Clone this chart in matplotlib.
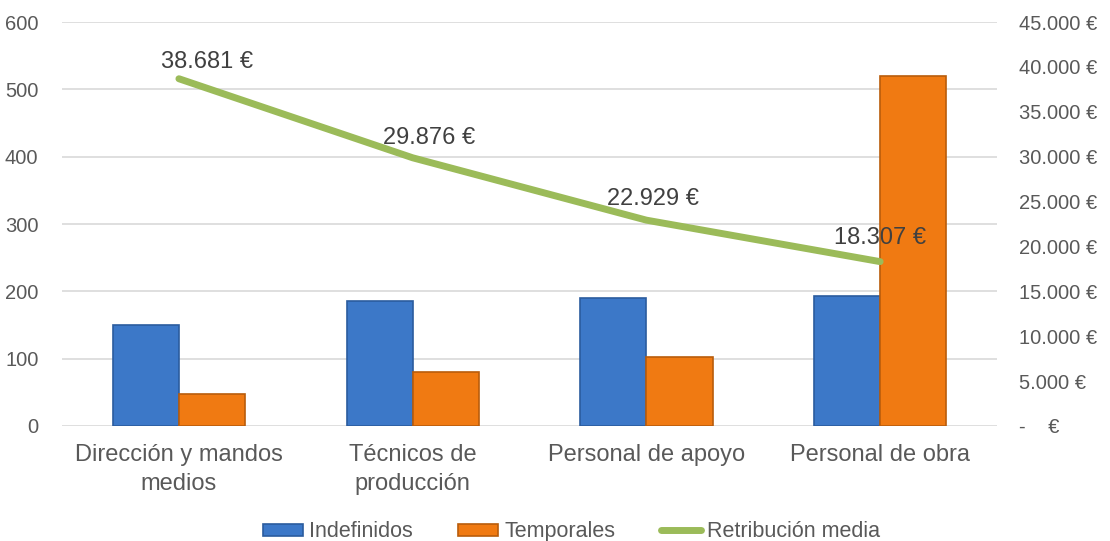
import matplotlib
matplotlib.use("Agg")
import matplotlib.pyplot as plt
import matplotlib.ticker as tck
import numpy as np

categorias = ["Dirección y mandos\nmedios", "Técnicos de\nproducción", "Personal de apoyo", "Personal de obra"]
indefinidos = [150, 185, 190, 193]
temporales = [47, 80, 103, 520]
retribucion = [38681, 29876, 22929, 18307]

plt.rcParams['font.family'] = ['Liberation Sans', 'DejaVu Sans']
gris = '#595959'

fig = plt.figure(figsize=(11.1, 5.41), dpi=100)
ax = fig.add_axes([0.0559, 0.2126, 0.8423, 0.7467])
ax2 = ax.twinx()

x = np.arange(len(categorias))
w = 0.283
ax.bar(x - w / 2, indefinidos, w, color='#3C78C8', edgecolor='#2B5C9E', linewidth=1.2, label='Indefinidos', zorder=3)
ax.bar(x + w / 2, temporales, w, color='#F07A12', edgecolor='#B95C0B', linewidth=1.2, label='Temporales', zorder=3)

ax2.plot(x, retribucion, color='#9BBB59', linewidth=5, solid_capstyle='round', label='Retribución media', zorder=4)

# etiquetas de datos (posiciones desplazadas como en el original)
desp = [(20, 4), (12, 6), (5, 7), (0, 9)]
for xi, v, d in zip(x, retribucion, desp):
    txt = "{:,.0f} €".format(v).replace(",", ".")
    ax2.annotate(txt, (xi, v), xytext=d, textcoords='offset points', ha='center', va='bottom',
                 fontsize=17, color='#404040')

ax.set_xlim(-0.5, 3.5)
ax.set_ylim(0, 600)
ax.set_yticks(range(0, 601, 100))
ax2.set_ylim(0, 45000)
ax2.set_yticks(range(0, 45001, 5000))

def euros(v, pos):
    if v == 0:
        return "-    €"
    return "{:,.0f} €".format(v).replace(",", ".")
ax2.yaxis.set_major_formatter(tck.FuncFormatter(euros))

ax.grid(axis='y', color='#D9D9D9', linewidth=1.2, zorder=0)
ax.set_axisbelow(True)
for a in (ax, ax2):
    for s in a.spines.values():
        s.set_visible(False)
ax.set_xticks(x)
ax.set_xticklabels(categorias, fontsize=17, color=gris, linespacing=1.4)
ax.tick_params(axis='x', length=0, pad=13)
ax.tick_params(axis='y', length=0, pad=17, labelsize=14.5, labelcolor=gris)
ax2.tick_params(axis='y', length=0, pad=16, labelsize=14.5, labelcolor=gris)

h1, l1 = ax.get_legend_handles_labels()
h2, l2 = ax2.get_legend_handles_labels()
fig.legend(h1 + h2, l1 + l2, loc='center', bbox_to_anchor=(0.515, 0.017), ncol=3, frameon=False,
           fontsize=15.5, labelcolor=gris, handlelength=1.85, handleheight=0.5, handletextpad=0.3,
           columnspacing=2.1)

fig.savefig("out.png", dpi=100)
